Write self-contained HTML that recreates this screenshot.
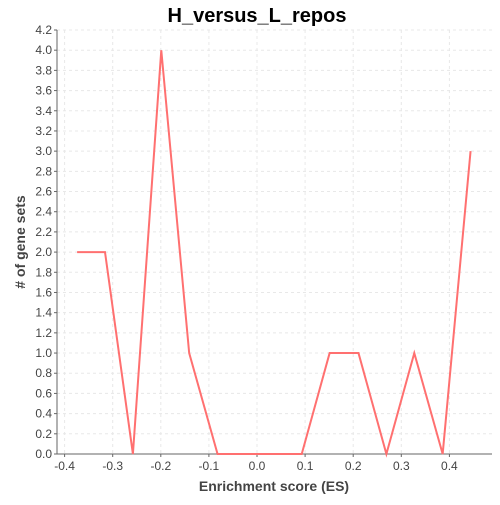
<!DOCTYPE html>
<html><head><meta charset="utf-8"><style>
body{margin:0;background:#fff;font-family:"Liberation Sans","DejaVu Sans",sans-serif}
</style></head><body>
<svg id="chart" width="500" height="500" xmlns="http://www.w3.org/2000/svg">
<rect width="500" height="500" fill="#fff"/>
<text x="257" y="22" text-anchor="middle" font-size="20" font-weight="bold" fill="#000">H_versus_L_repos</text>
<g id="grid"></g><g id="axes"></g><g id="series"></g>
<text x="274" y="491" text-anchor="middle" font-size="14" font-weight="bold" fill="#444">Enrichment score (ES)</text>
<text transform="translate(25,242) rotate(-90)" text-anchor="middle" font-size="14" font-weight="bold" fill="#444"># of gene sets</text>
</svg>
<script>
const esValues=[-0.374,-0.316,-0.258,-0.199,-0.141,-0.082,-0.024,0.034,0.093,0.151,0.211,0.269,0.327,0.386,0.444];
const counts=[2,2,0,4,1,0,0,0,0,1,1,0,1,0,3];
const xTicks=[-0.4,-0.3,-0.2,-0.1,0.0,0.1,0.2,0.3,0.4];
const yTicks=[0,0.2,0.4,0.6,0.8,1,1.2,1.4,1.6,1.8,2,2.2,2.4,2.6,2.8,3,3.2,3.4,3.6,3.8,4,4.2];
const L=57,R=492,T=30,B=454;
const xs=v=>257+v*481;
const ys=v=>B-v*(B-T)/4.2;
const NS="http://www.w3.org/2000/svg";
function mk(tag,a,p){const e=document.createElementNS(NS,tag);for(const k in a)e.setAttribute(k,a[k]);p.appendChild(e);return e;}
const grid=document.getElementById('grid'),axes=document.getElementById('axes'),ser=document.getElementById('series');
xTicks.forEach(t=>{const x=xs(t);
const g=mk('line',{x1:x,x2:x,y1:T,y2:B,stroke:'#e8e8e8','stroke-dasharray':'3,3'},grid);


mk('line',{x1:x,x2:x,y1:B,y2:B+3,stroke:'#666'},axes);
const tx=mk('text',{x:x,y:B+16,'text-anchor':'middle','font-size':12,fill:'#444'},axes);
tx.textContent=t.toFixed(1);

});
yTicks.forEach(t=>{const y=ys(t);
const g=mk('line',{x1:L,x2:R,y1:y,y2:y,stroke:'#e8e8e8','stroke-dasharray':'3,3'},grid);


mk('line',{x1:L-3,x2:L,y1:y,y2:y,stroke:'#666'},axes);
const tx=mk('text',{x:L-5,y:y+4,'text-anchor':'end','font-size':12,fill:'#444'},axes);
tx.textContent=t.toFixed(1);

});
const ax=mk('path',{d:`M${L},${T}V${B}H${R}`,fill:'none',stroke:'#666'},axes);


const ln=mk('polyline',{points:esValues.map((v,i)=>xs(v)+','+ys(counts[i])).join(' '),fill:'none',stroke:'#ff7070','stroke-width':2},ser);


</script>
</body></html>
